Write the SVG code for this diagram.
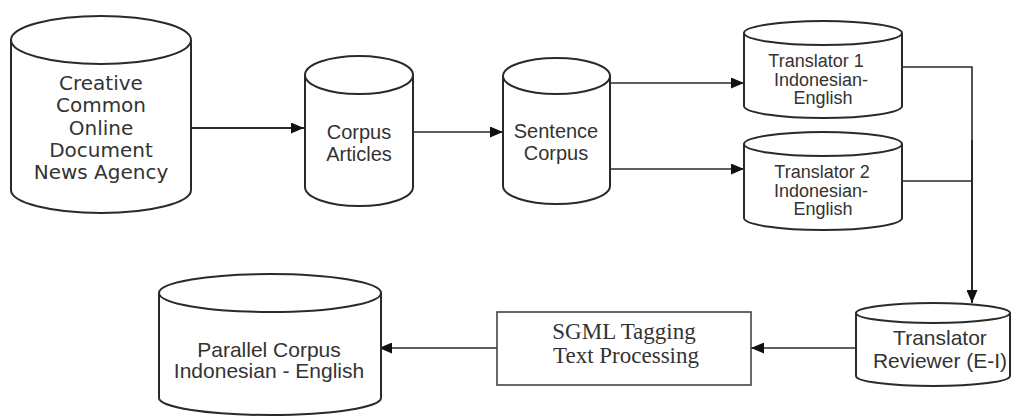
<svg xmlns="http://www.w3.org/2000/svg" width="1013" height="416" viewBox="0 0 1013 416">
<style>
.cyl{fill:#fff;stroke:#2a2a2a;stroke-width:2}
.box{fill:#fff;stroke:#444;stroke-width:1.6}
.t{font-family:"Liberation Sans",Arial,sans-serif;fill:#333;text-anchor:middle}
.v{font-family:"DejaVu Sans",Verdana,sans-serif;fill:#333;text-anchor:middle;font-size:20px}
.s{font-family:"Liberation Serif","Times New Roman",serif;fill:#333;text-anchor:middle;font-size:23px}
.c{fill:none;stroke:#2a2a2a;stroke-width:2}
.c1{fill:none;stroke:#2a2a2a;stroke-width:1.6}
</style>
<defs>
<marker id="ah" markerWidth="13" markerHeight="11" refX="13" refY="5.5" orient="auto" markerUnits="userSpaceOnUse">
<path d="M0,0 L13,5.5 L0,11 Z" fill="#111"/>
</marker>
</defs>
<rect width="1013" height="416" fill="#fff"/>
<g id="connectors">
<line class="c" x1="184" y1="128" x2="304" y2="128" marker-end="url(#ah)"/>
<line class="c1" x1="413" y1="132" x2="503" y2="132" marker-end="url(#ah)"/>
<line class="c1" x1="610" y1="83" x2="744" y2="83" marker-end="url(#ah)"/>
<line class="c1" x1="610" y1="169" x2="744" y2="169" marker-end="url(#ah)"/>
<polyline class="c1" points="896,67 972,67 972,140"/>
<line class="c1" x1="896" y1="181" x2="972" y2="181"/>
<line class="c" x1="972" y1="140" x2="972" y2="303" marker-end="url(#ah)"/>
<line class="c1" x1="856" y1="348" x2="751" y2="348" marker-end="url(#ah)"/>
<line class="c1" x1="497" y1="348" x2="379" y2="348" marker-end="url(#ah)"/>
</g>
<g id="n1">
<path class="cyl" d="M11,40 L11,190 A90,23 0 0 0 191,190 L191,40"/>
<ellipse class="cyl" cx="101" cy="40" rx="90" ry="24"/>
<text class="v" x="101" y="90">Creative</text>
<text class="v" x="101" y="112">Common</text>
<text class="v" x="101" y="135">Online</text>
<text class="v" x="101" y="157">Document</text>
<text class="v" x="101" y="179">News Agency</text>
</g>
<g id="n2">
<path class="cyl" d="M305,75 L305,187 A54,19 0 0 0 413,187 L413,75"/>
<ellipse class="cyl" cx="359" cy="75" rx="54" ry="19"/>
<text class="t" x="359" y="139" font-size="20">Corpus</text>
<text class="t" x="359" y="161" font-size="20">Articles</text>
</g>
<g id="n3">
<path class="cyl" d="M503,76 L503,186 A53.5,18 0 0 0 610,186 L610,76"/>
<ellipse class="cyl" cx="556.5" cy="76" rx="53.5" ry="18"/>
<text class="t" x="556" y="138" font-size="20">Sentence</text>
<text class="t" x="556" y="160" font-size="20">Corpus</text>
</g>
<g id="n4">
<path class="cyl" d="M744,33 L744,106 A79,12 0 0 0 902,106 L902,33"/>
<ellipse class="cyl" cx="823" cy="33" rx="79" ry="12"/>
<text class="t" x="816" y="67" font-size="18">Translator 1</text>
<text class="t" x="821" y="86" font-size="18">Indonesian-</text>
<text class="t" x="823" y="104" font-size="18">English</text>
</g>
<g id="n5">
<path class="cyl" d="M744,144 L744,218 A79,12 0 0 0 902,218 L902,144"/>
<ellipse class="cyl" cx="823" cy="144" rx="79" ry="12"/>
<text class="t" x="822" y="178" font-size="18">Translator 2</text>
<text class="t" x="821" y="197" font-size="18">Indonesian-</text>
<text class="t" x="823" y="215" font-size="18">English</text>
</g>
<g id="n6">
<path class="cyl" d="M856,313 L856,376 A77,10 0 0 0 1010,376 L1010,313"/>
<ellipse class="cyl" cx="933" cy="313" rx="77" ry="10"/>
<text class="t" x="940" y="345" font-size="21">Translator</text>
<text class="t" x="940" y="368" font-size="21">Reviewer (E-I)</text>
</g>
<g id="n7">
<rect class="box" x="497" y="312" width="254" height="73"/>
<text class="s" x="624" y="339">SGML Tagging</text>
<text class="s" x="626" y="363">Text Processing</text>
</g>
<g id="n8">
<path class="cyl" d="M159,293 L159,398 A111,17 0 0 0 381,398 L381,293"/>
<ellipse class="cyl" cx="270" cy="293" rx="111" ry="19"/>
<text class="t" x="269" y="357" font-size="21">Parallel Corpus</text>
<text class="t" x="269" y="378" font-size="21">Indonesian - English</text>
</g>
</svg>
